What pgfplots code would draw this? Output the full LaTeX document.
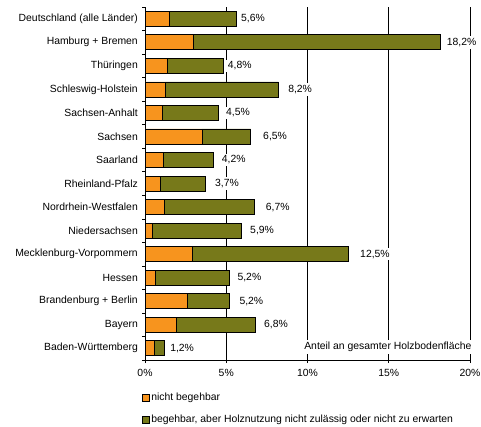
\documentclass[border=0pt]{standalone}
\usepackage{pgfplots}
\pgfplotsset{compat=1.18}
\usepackage{pgfplotstable}
\usepackage{fontspec}
\setmainfont{Liberation Sans}
\definecolor{orng}{RGB}{247,148,30}
\definecolor{olv}{RGB}{119,121,26}
\pgfplotsset{sqlegend/.style={legend image code/.code={\draw[##1,draw=black,line width=0.5pt] (0pt,-3.3pt) rectangle (6.6pt,3.3pt);}}}
\pgfplotstableread{
y orange green total lx
0 0.55 0.65 1.2 1.42
1 1.9 4.9 6.8 7.20
2 2.6 2.6 5.2 5.68
3 0.65 4.55 5.2 5.56
4 2.9 9.6 12.5 13.11
5 0.45 5.45 5.9 6.34
6 1.2 5.5 6.7 7.30
7 0.95 2.75 3.7 4.18
8 1.15 3.05 4.2 4.60
9 3.5 3.0 6.5 7.14
10 1.05 3.45 4.5 4.86
11 1.25 6.95 8.2 8.68
12 1.4 3.4 4.8 4.97
13 3.0 15.2 18.2 18.44
14 1.5 4.1 5.6 5.78
}\data
\begin{document}
\fontsize{10.4}{12}\selectfont
\begin{tikzpicture}[font=\fontsize{10.4}{12}\selectfont]
\useasboundingbox (0,0) rectangle (481pt,426pt);
\begin{axis}[
  at={(145pt,66pt)}, anchor=south west,
  scale only axis, width=325pt, height=353pt,
  xbar stacked, bar width=15pt,
  xmin=0, xmax=20, ymin=-0.5, ymax=14.5,
  axis lines*=left, axis line style={black, line width=0.6pt},
  clip=false,
  xtick={0,5,10,15,20},
  xticklabels={0\%,5\%,10\%,15\%,20\%},
  ytick={-0.5,0.5,...,14.5},
  yticklabels={Baden-Württemberg,Bayern,Brandenburg + Berlin,Hessen,Mecklenburg-Vorpommern,Niedersachsen,Nordrhein-Westfalen,Rheinland-Pfalz,Saarland,Sachsen,Sachsen-Anhalt,Schleswig-Holstein,Thüringen,Hamburg + Bremen,Deutschland (alle Länder),{}},
  yticklabel style={yshift=11.77pt, inner sep=0pt, xshift=-4pt},
  xticklabel style={inner sep=0pt, yshift=-6pt},
  tick align=outside, major tick length=3pt,
  tick style={black, line width=0.6pt},
  xmajorgrids, grid style={black, line width=0.6pt},
  legend style={at={(0,0)}, anchor=north west, xshift=-3pt, yshift=-31pt, draw=none, fill=none, inner sep=0pt, row sep=9pt, legend cell align=left},
]
\addplot[fill=orng, draw=black, line width=0.6pt, sqlegend] table[x=orange, y=y] {\data};
\addlegendentry{nicht begehbar}
\addplot[fill=olv, draw=black, line width=0.6pt, sqlegend] table[x=green, y=y] {\data};
\addlegendentry{begehbar, aber Holznutzung nicht zulässig oder nicht zu erwarten}
\end{axis}
\begin{axis}[
  at={(145pt,66pt)}, anchor=south west,
  scale only axis, width=325pt, height=353pt,
  xmin=0, xmax=20, ymin=-0.5, ymax=14.5,
  hide axis, clip=false,
]
\addplot[only marks, mark=none, point meta=explicit,
  nodes near coords={\pgfmathprintnumber[fixed,fixed zerofill,precision=1,use comma,assume math mode=true]{\pgfplotspointmeta}\%},
  nodes near coords style={anchor=west, fill=white, text=black, inner sep=2pt}] table[x=lx, y=y, meta=total] {\data};
\node[anchor=east, fill=white, inner sep=2.5pt] at (axis cs:20.25,0.05) {Anteil an gesamter Holzbodenfläche};
\end{axis}
\end{tikzpicture}
\end{document}
